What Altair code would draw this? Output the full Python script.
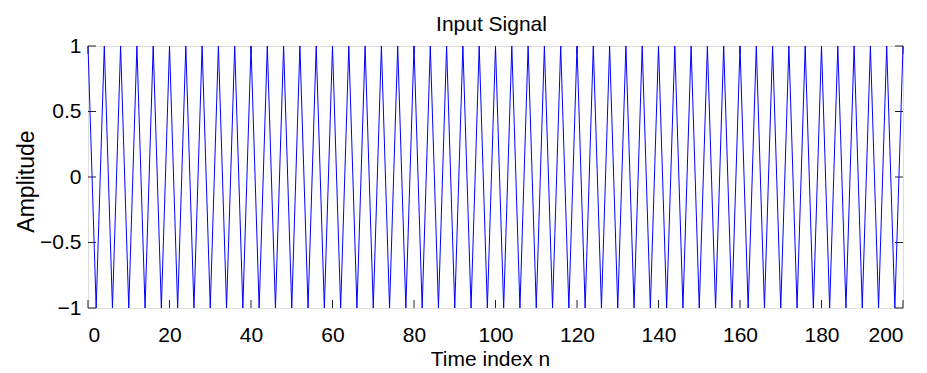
import altair as alt
import pandas as pd

# Sample index n (0..200) and the sampled input signal amplitude
n_values = list(range(0, 201))
amplitude = [
    1, 0, -1, 0, 1, 0, -1, 0, 1, 0, -1, 0, 1, 0, -1, 0, 1, 0, -1, 0,
    1, 0, -1, 0, 1, 0, -1, 0, 1, 0, -1, 0, 1, 0, -1, 0, 1, 0, -1, 0,
    1, 0, -1, 0, 1, 0, -1, 0, 1, 0, -1, 0, 1, 0, -1, 0, 1, 0, -1, 0,
    1, 0, -1, 0, 1, 0, -1, 0, 1, 0, -1, 0, 1, 0, -1, 0, 1, 0, -1, 0,
    1, 0, -1, 0, 1, 0, -1, 0, 1, 0, -1, 0, 1, 0, -1, 0, 1, 0, -1, 0,
    1, 0, -1, 0, 1, 0, -1, 0, 1, 0, -1, 0, 1, 0, -1, 0, 1, 0, -1, 0,
    1, 0, -1, 0, 1, 0, -1, 0, 1, 0, -1, 0, 1, 0, -1, 0, 1, 0, -1, 0,
    1, 0, -1, 0, 1, 0, -1, 0, 1, 0, -1, 0, 1, 0, -1, 0, 1, 0, -1, 0,
    1, 0, -1, 0, 1, 0, -1, 0, 1, 0, -1, 0, 1, 0, -1, 0, 1, 0, -1, 0,
    1, 0, -1, 0, 1, 0, -1, 0, 1, 0, -1, 0, 1, 0, -1, 0, 1, 0, -1, 0,
    1,
]
x_ticks = [0, 20, 40, 60, 80, 100, 120, 140, 160, 180, 200]
y_ticks = [-1, -0.5, 0, 0.5, 1]

W, H = 815, 262
TICK = 8
FONT = "Liberation Sans"

sig = pd.DataFrame({"n": n_values, "amp": amplitude})
xt = pd.DataFrame({"n": x_ticks})
yt = pd.DataFrame({"amp": y_ticks})

xscale = alt.Scale(domain=[0, 200], nice=False, zero=False)
yscale = alt.Scale(domain=[-1, 1], nice=False, zero=False)

xaxis = alt.Axis(values=x_ticks, format="d", title="Time index n", ticks=False, tickSize=0,
                 grid=False, domain=False, labelPadding=16,
                 labelFontSize=21, titleFontSize=21,
                 titleBaseline="alphabetic", titleY=57, titleX=402,
                 labelFont=FONT, titleFont=FONT, titleFontWeight="normal",
                 labelColor="black", titleColor="black")
yaxis = alt.Axis(values=y_ticks, format="~g", title="Amplitude", ticks=False, tickSize=0,
                 grid=False, domain=False, labelPadding=7,
                 labelFontSize=21, titleFontSize=23,
                 titleBaseline="alphabetic", titleX=-55, titleY=135,
                 labelFont=FONT, titleFont=FONT, titleFontWeight="normal",
                 labelColor="black", titleColor="black")

X = alt.X("n:Q", scale=xscale, axis=xaxis)
Y = alt.Y("amp:Q", scale=yscale, axis=yaxis)

line = alt.Chart(sig).mark_line(color="#0000FF", strokeWidth=1).encode(x=X, y=Y)

tick_color = "#222222"
xb = alt.Chart(xt).mark_rule(color=tick_color, strokeWidth=1).encode(
    x=X, y=alt.value(H), y2=alt.value(H - TICK))
xtop = alt.Chart(xt).mark_rule(color=tick_color, strokeWidth=1).encode(
    x=X, y=alt.value(0), y2=alt.value(TICK))
yl = alt.Chart(yt).mark_rule(color=tick_color, strokeWidth=1).encode(
    y=Y, x=alt.value(0), x2=alt.value(TICK))
yr = alt.Chart(yt).mark_rule(color=tick_color, strokeWidth=1).encode(
    y=Y, x=alt.value(W - TICK), x2=alt.value(W))

chart = alt.layer(xb, xtop, yl, yr, line).properties(
    width=W, height=H,
    title=alt.TitleParams("Input Signal", fontSize=21, font=FONT, fontWeight="normal",
                          color="black", offset=0, dx=-4),
    autosize=alt.AutoSizeParams(type="none"),
    padding={"left": 80, "top": 38, "right": 16, "bottom": 64},
).configure_view(stroke="black", strokeWidth=1.3).configure(background="white")

chart.save("out.html", embed_options={"renderer": "svg", "actions": False})
